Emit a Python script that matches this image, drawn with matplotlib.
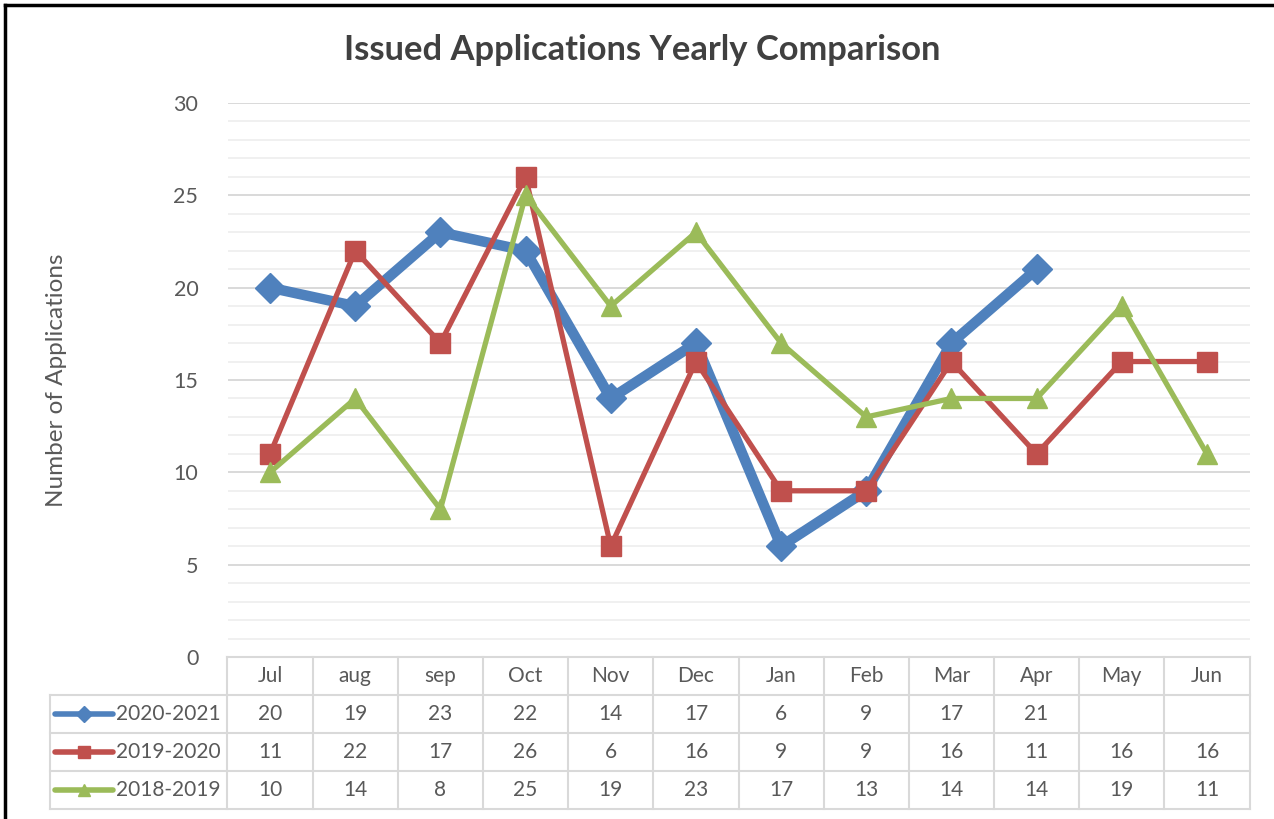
import matplotlib
matplotlib.use('Agg')
import matplotlib.pyplot as plt
from matplotlib.lines import Line2D
import numpy as np

plt.rcParams['font.family'] = ['Lato', 'DejaVu Sans']

months = ['Jul', 'aug', 'sep', 'Oct', 'Nov', 'Dec', 'Jan', 'Feb', 'Mar', 'Apr', 'May', 'Jun']
labels = ['2020-2021', '2019-2020', '2018-2019']
y2020 = [20, 19, 23, 22, 14, 17, 6, 9, 17, 21, None, None]
y2019 = [11, 22, 17, 26, 6, 16, 9, 9, 16, 11, 16, 16]
y2018 = [10, 14, 8, 25, 19, 23, 17, 13, 14, 14, 19, 11]

colors = ['#4f81bd', '#c0504d', '#9bbb59']
markers = ['D', 's', '^']
msizes = [15, 15, 14]
lwidths = [7.5, 3.8, 3.8]
TEXT = '#595959'
GRID = '#d9d9d9'

W, H = 1274, 819
fig = plt.figure(figsize=(W / 100, H / 100), dpi=100)

# main plot area
left, right = 227.5, 1249.5
top, bottom = 103, 657
ax = fig.add_axes([left / W, 1 - bottom / H, (right - left) / W, (bottom - top) / H])
x = np.arange(len(months))
series = [y2020, y2019, y2018]
for i, s in enumerate(series):
    vals = np.array([np.nan if v is None else v for v in s], dtype=float)
    ax.plot(x, vals, color=colors[i], lw=lwidths[i], marker=markers[i],
            ms=msizes[i], mec=colors[i], mfc=colors[i], zorder=3 + i,
            solid_joinstyle='round')

ax.set_xlim(-0.5, len(months) - 0.5)
ax.set_ylim(0, 30)
ax.set_yticks(range(0, 31, 5))
ax.set_yticks(range(0, 31, 1), minor=True)
ax.grid(axis='y', which='major', color=GRID, lw=1.4, zorder=0)
ax.grid(axis='y', which='minor', color='#f0f0f0', lw=1.4, zorder=0)
ax.set_xticks([])
ax.tick_params(axis='y', which='both', length=0, labelsize=15.5, labelcolor=TEXT, pad=21)
for sp in ax.spines.values():
    sp.set_visible(False)
ax.set_ylabel('Number of Applications', fontsize=17.5, color=TEXT)
ax.yaxis.set_label_coords((67 - left) / (right - left), 0.5)

fig.text(642 / W, 1 - 50 / H, 'Issued Applications Yearly Comparison',
         ha='center', va='center', fontsize=24.8, fontweight='bold', color='#404040')

# data table below the plot
tleft, tbottom = 50, 809
col_w = (right - left) / len(months)
key_cols = (left - tleft) / col_w
tx0 = -0.5 - key_cols
tax = fig.add_axes([tleft / W, 1 - tbottom / H, (right - tleft) / W, (tbottom - bottom) / H])
tax.set_xlim(tx0, len(months) - 0.5)
tax.set_ylim(4, 0)
tax.axis('off')

lc = GRID
tax.plot([-0.5, len(months) - 0.5], [0, 0], color=lc, lw=1.5, clip_on=False)
for r in range(1, 5):
    tax.plot([tx0, len(months) - 0.5], [r, r], color=lc, lw=1.5, clip_on=False)
tax.plot([tx0, tx0], [1, 4], color=lc, lw=1.5, clip_on=False)
for c in range(len(months) + 1):
    tax.plot([c - 0.5, c - 0.5], [0, 4], color=lc, lw=1.5, clip_on=False)

for c, m in enumerate(months):
    tax.text(c, 0.5, m, ha='center', va='center', fontsize=15, color=TEXT)

for i, s in enumerate(series):
    row = i + 1.5
    for c, v in enumerate(s):
        if v is not None:
            tax.text(c, row, str(v), ha='center', va='center', fontsize=15, color=TEXT)
    k0 = tx0 + 5 / col_w
    k1 = tx0 + 63 / col_w
    tax.plot([k0, k1], [row, row], color=colors[i], lw=4, solid_capstyle='round')
    tax.plot([(k0 + k1) / 2], [row], marker=markers[i], ms=8, color=colors[i])
    tax.text(tx0 + 66 / col_w, row, labels[i], ha='left', va='center',
             fontsize=15, color=TEXT)

# chart border (top and left edges)
fig.add_artist(Line2D([5 / W, 5 / W], [0, 1 - 5 / H], color='black', lw=2.5))
fig.add_artist(Line2D([5 / W, 1], [1 - 5 / H, 1 - 5 / H], color='black', lw=2.5))

fig.savefig('out.png', dpi=100, facecolor='white')
